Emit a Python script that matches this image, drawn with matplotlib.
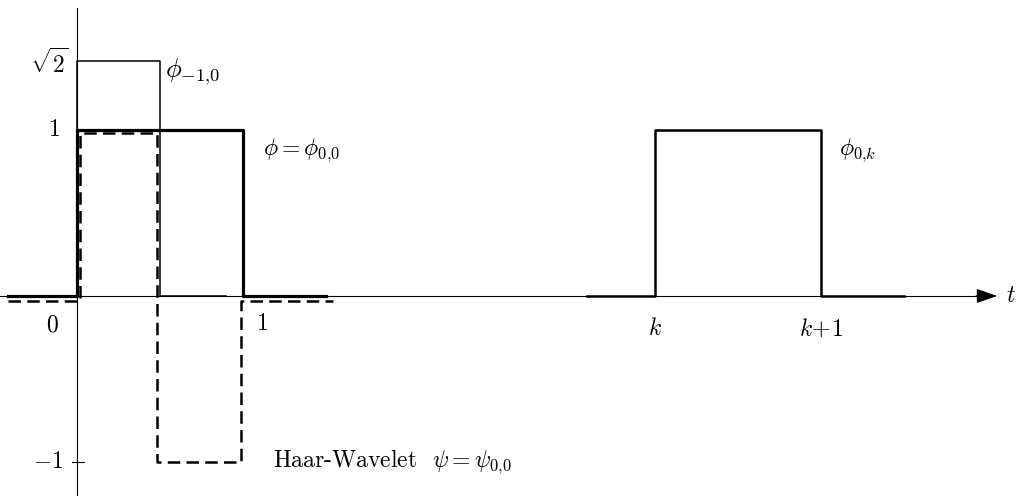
import numpy as np
import matplotlib.pyplot as plt

plt.rcParams['mathtext.fontset'] = 'cm'
plt.rcParams['font.family'] = ['cmr10', 'DejaVu Serif']
plt.rcParams['axes.unicode_minus'] = False

# scaling function phi = phi_{0,0}
phi_t = [-0.415, 0, 0, 1, 1, 1.5]
phi_y = [0, 0, 1, 1, 0, 0]

# phi_{-1,0}
phim_t = [0, 0, 0.5, 0.5, 0.9]
phim_y = [0, np.sqrt(2), np.sqrt(2), 0, 0]

# Haar wavelet psi (drawn slightly offset)
psi_t = [-0.415, 0.02, 0.02, 0.48, 0.48, 0.99, 0.99, 1.54]
psi_y = [-0.03, -0.03, 0.98, 0.98, -1, -1, -0.03, -0.03]

# phi_{0,k}
phik_t = [3.07, 3.48, 3.48, 4.48, 4.48, 4.98]
phik_y = [0, 0, 1, 1, 0, 0]

fig = plt.figure(figsize=(10.19, 4.96), dpi=100)
ax = fig.add_axes([0, 0, 1, 1])
ax.set_xlim(-0.4639, 5.675)
ax.set_ylim(-1.205, 1.783)
ax.axis('off')

# axes
ax.plot([-0.47, 5.45], [0, 0], color='black', lw=0.8)
ax.annotate('', xy=(5.56, 0), xytext=(5.40, 0),
            arrowprops=dict(arrowstyle='-|>,head_length=1.3,head_width=0.45',
                            color='black', lw=0.8))
ax.plot([0, 0], [-1.21, 1.735], color='black', lw=0.8)
ax.plot([-0.03, 0.04], [-1, -1], color='black', lw=0.8)

ax.plot(phim_t, phim_y, color='black', lw=1.1)
ax.plot(phi_t, phi_y, color='black', lw=2.3)
ax.plot(psi_t, psi_y, color='black', lw=1.8, linestyle=(0, (5, 2.5)))
ax.plot(phik_t, phik_y, color='black', lw=1.8)

fs = 17
ax.text(-0.05, 1.40, r'$\sqrt{2}$', fontsize=fs, ha='right', va='center')
ax.text(-0.1, 1.0, '1', fontsize=fs, ha='right', va='center')
ax.text(-0.08, -1.0, r'$-1$', fontsize=fs, ha='right', va='center')
ax.text(-0.15, -0.18, '0', fontsize=fs, ha='center', va='center')
ax.text(1.12, -0.17, '1', fontsize=fs, ha='center', va='center')
ax.text(3.48, -0.2, r'$k$', fontsize=fs, ha='center', va='center')
ax.text(4.48, -0.2, r'$k\!+\!1$', fontsize=fs, ha='center', va='center')
ax.text(5.595, 0.0, r'$t$', fontsize=fs, ha='left', va='center')

ax.text(0.53, 1.35, r'$\phi_{-1{,}0}$', fontsize=19, ha='left', va='center')
ax.text(1.12, 0.88, r'$\phi = \phi_{0{,}0}$', fontsize=fs, ha='left', va='center')
ax.text(4.59, 0.88, r'$\phi_{0{,}k}$', fontsize=fs, ha='left', va='center')
ax.text(1.18, -1.0, r'Haar-Wavelet  $\psi = \psi_{0{,}0}$', fontsize=fs,
        ha='left', va='center')

fig.savefig('out.png', dpi=100)
